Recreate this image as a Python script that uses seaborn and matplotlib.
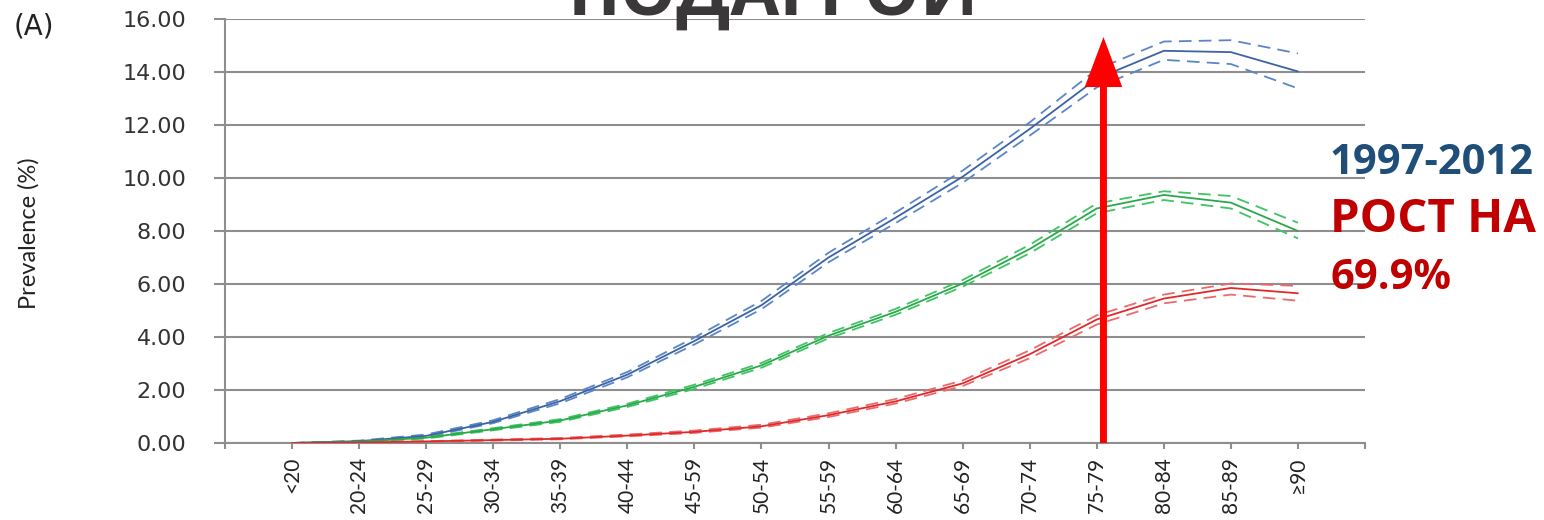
import numpy as np
import pandas as pd
import matplotlib
matplotlib.use("Agg")
import matplotlib.pyplot as plt
import seaborn as sns

# Age groups on the horizontal axis
age_groups = ["<20", "20-24", "25-29", "30-34", "35-39", "40-44", "45-59", "50-54",
              "55-59", "60-64", "65-69", "70-74", "75-79", "80-84", "85-89", "≥90"]

# Prevalence (%) with lower / upper confidence bounds
blue_mid = [0.00, 0.07, 0.27, 0.80, 1.58, 2.58, 3.85, 5.20, 7.00, 8.50, 10.05, 11.85, 13.75, 14.80, 14.75, 14.02]
blue_hi = [0.00, 0.09, 0.32, 0.86, 1.66, 2.68, 3.98, 5.36, 7.18, 8.70, 10.28, 12.10, 14.10, 15.15, 15.20, 14.70]
blue_lo = [0.00, 0.05, 0.23, 0.75, 1.50, 2.48, 3.72, 5.05, 6.82, 8.30, 9.82, 11.60, 13.42, 14.46, 14.30, 13.38]

green_mid = [0.00, 0.05, 0.20, 0.52, 0.85, 1.42, 2.12, 2.93, 4.05, 4.95, 6.02, 7.32, 8.85, 9.36, 9.07, 8.00]
green_hi = [0.00, 0.06, 0.23, 0.56, 0.90, 1.48, 2.20, 3.02, 4.15, 5.06, 6.15, 7.48, 9.04, 9.50, 9.32, 8.31]
green_lo = [0.00, 0.04, 0.17, 0.48, 0.80, 1.36, 2.04, 2.84, 3.95, 4.84, 5.90, 7.16, 8.67, 9.17, 8.85, 7.72]

red_mid = [0.00, 0.02, 0.06, 0.11, 0.16, 0.28, 0.42, 0.63, 1.05, 1.57, 2.25, 3.35, 4.66, 5.45, 5.85, 5.65]
red_hi = [0.00, 0.03, 0.07, 0.13, 0.19, 0.32, 0.47, 0.69, 1.12, 1.66, 2.36, 3.50, 4.82, 5.60, 6.02, 5.93]
red_lo = [0.00, 0.01, 0.05, 0.09, 0.14, 0.25, 0.38, 0.58, 0.98, 1.49, 2.15, 3.20, 4.47, 5.27, 5.60, 5.37]

y_ticks = [0, 2, 4, 6, 8, 10, 12, 14, 16]

# Growth arrow: drawn next to the 75-79 group, rising to the top of the scale
arrow_x = 12.1
arrow_top = 15.32

title_text = "ПОДАГРОЙ"
period_text = "1997-2012"
growth_text = "РОСТ НА"
growth_value = "69.9%"

sns.set_style("white")
plt.rcParams["font.family"] = ["DejaVu Sans"]
narrow = ["Lato", "DejaVu Sans"]
heavy = ["Open Sans", "DejaVu Sans"]

series = [
    ("blue", blue_mid, blue_lo, blue_hi, "#3b63a6", "#5a86c6"),
    ("green", green_mid, green_lo, green_hi, "#2aa84a", "#3fc463"),
    ("red", red_mid, red_lo, red_hi, "#e02a2a", "#ea6a6c"),
]

pos = np.arange(len(age_groups))

fig = plt.figure(figsize=(15.44, 5.20), dpi=100)
ax = fig.add_axes([225 / 1544, 1 - 443 / 520, (1365 - 225) / 1544, (443 - 19) / 520])

for name, mid, lo, hi, c_line, c_dash in series:
    df = pd.DataFrame({"pos": pos, "mid": mid, "lo": lo, "hi": hi})
    for col in ("lo", "hi"):
        sns.lineplot(data=df, x="pos", y=col, ax=ax, color=c_dash, lw=1.3,
                     linestyle=(0, (7, 4)), zorder=3)
    sns.lineplot(data=df, x="pos", y="mid", ax=ax, color=c_line, lw=1.3, zorder=4)

grid_c = "#8e8e8e"
ax.set_xlim(-1, 16)
ax.set_ylim(0, 16)
ax.set_yticks(y_ticks)
ax.set_yticklabels([f"{v:.2f}" for v in y_ticks], fontsize=16, color="#333333")
ax.set_xticks(np.arange(-1, 17))
ax.set_xticklabels([""] + age_groups + [""], rotation=90, fontsize=15, color="#222222",
                   family=narrow)
ax.yaxis.grid(True, color=grid_c, lw=1.5)
ax.xaxis.grid(False)
ax.set_axisbelow(True)
for s in ("top", "right"):
    ax.spines[s].set_visible(False)
for s in ("left", "bottom"):
    ax.spines[s].set_color(grid_c)
    ax.spines[s].set_linewidth(1.5)
ax.tick_params(axis="y", length=8, width=1.5, color=grid_c, pad=20, left=True)
ax.tick_params(axis="x", length=4, width=1.5, color=grid_c, pad=6, bottom=True)
ax.set_xlabel("")
ax.set_ylabel("")

fig.text(29 / 1544, 1 - 233 / 520, "Prevalence (%)", rotation=90, ha="center", va="center",
         fontsize=17, color="#222222", family=narrow)
fig.text(14 / 1544, 1 - 27 / 520, "(A)", ha="left", va="center", fontsize=20, color="#222222")

ax.annotate("", xy=(arrow_x, arrow_top), xytext=(arrow_x, 0),
            arrowprops=dict(width=5, headwidth=27, headlength=36, color="#ff0000",
                            shrink=0, lw=0),
            annotation_clip=False, zorder=10)

fig.text(773 / 1544, 1 - 15 / 520, title_text, ha="center", va="baseline", fontsize=51,
         fontweight="bold", color="#3a3839", family=heavy)
fig.text(1330 / 1544, 1 - 174 / 520, period_text, ha="left", va="baseline", fontsize=30,
         fontweight="bold", color="#1f4e79", family=heavy)
fig.text(1330 / 1544, 1 - 232 / 520, growth_text, ha="left", va="baseline", fontsize=34,
         fontweight="bold", color="#c00000", family=heavy)
fig.text(1330 / 1544, 1 - 289 / 520, growth_value, ha="left", va="baseline", fontsize=30,
         fontweight="bold", color="#c00000", family=heavy)

fig.savefig("out.png", dpi=100)
